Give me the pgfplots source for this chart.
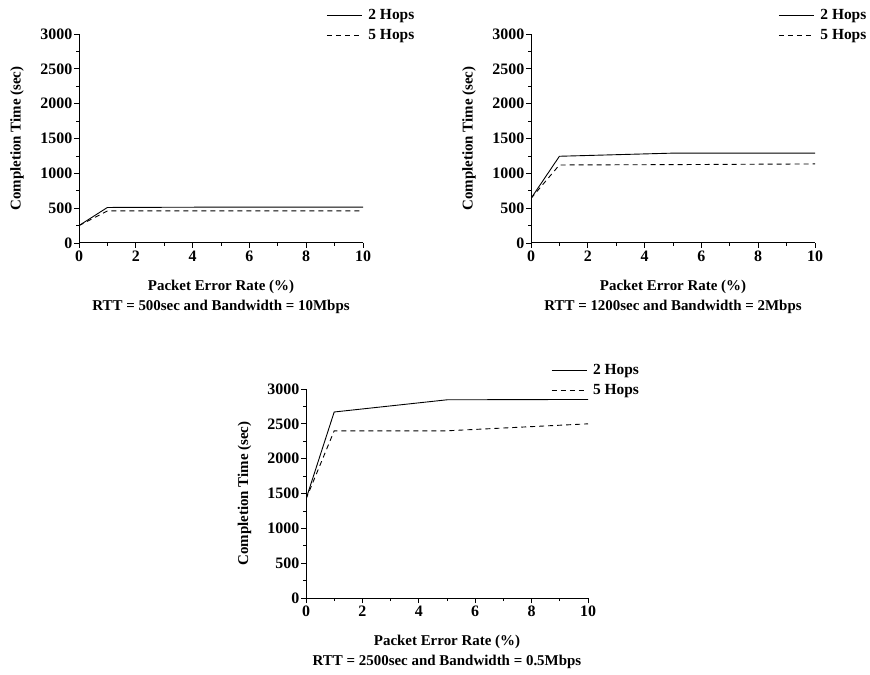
\documentclass[border=0pt]{standalone}
\usepackage{fontspec}
\setmainfont{Liberation Serif}
\usepackage{pgfplots}
\pgfplotsset{compat=1.18}

\pgfplotsset{
  hops/.style={
    scale only axis, width=284bp, height=209bp,
    axis lines=left, axis line style={-, line width=1bp},
    xmin=0, xmax=10, ymin=0, ymax=3000,
    xtick={0,2,...,10}, ytick={0,500,...,3000},
    minor x tick num=1, minor y tick num=1,
    tick align=outside, major tick length=5bp, minor tick length=3bp,
    every tick/.style={line width=0.8bp, black},
    /pgf/number format/assume math mode=true,
    /pgf/number format/1000 sep={},
    tick label style={font=\fontsize{16}{18}\selectfont\bfseries},
    yticklabel style={inner sep=1.5bp},
    xticklabel style={inner sep=2.5bp},
    label style={font=\fontsize{15}{20}\selectfont\bfseries},
    xlabel style={align=center, at={(axis description cs:0.5,-0.256)}, anchor=center},
    ylabel style={at={(axis description cs:-0.218,0.5)}, anchor=center},
    xlabel={Packet Error Rate (\%)\\#1},
    ylabel={Completion Time (sec)},
    legend style={draw=none, fill=none, inner sep=0pt,
      at={(axis description cs:1.185,1.13)}, anchor=north east,
      font=\fontsize{15.5}{18}\selectfont\bfseries,
      nodes={inner sep=1bp, text height=11bp, text depth=4bp},
      row sep=3bp,
      /tikz/every odd column/.append style={column sep=5bp}},
    legend cell align=left,
    legend image code/.code={\draw[##1] (0bp,0bp) -- (35bp,0bp);},
  },
  two/.style={black, line width=0.9bp},
  five/.style={black, line width=0.9bp, dash pattern=on 5bp off 4bp},
}

\begin{document}
\begin{tikzpicture}
\path[use as bounding box] (0,0) rectangle (870bp,675bp);

\begin{axis}[hops={RTT = 500sec and Bandwidth = 10Mbps},
  at={(79bp,432bp)}, anchor=south west]
  \addplot[two] coordinates {(0,250) (1,510) (5,515) (10,515)};
  \addplot[five] coordinates {(0,250) (1,460) (5,460) (10,460)};
  \legend{2 Hops, 5 Hops}
\end{axis}

\begin{axis}[hops={RTT = 1200sec and Bandwidth = 2Mbps},
  at={(531bp,432bp)}, anchor=south west]
  \addplot[two] coordinates {(0,640) (1,1245) (5,1290) (10,1290)};
  \addplot[five] coordinates {(0,640) (1,1120) (5,1125) (10,1135)};
  \legend{2 Hops, 5 Hops}
\end{axis}

\begin{axis}[hops={RTT = 2500sec and Bandwidth = 0.5Mbps},
  at={(306bp,77bp)}, anchor=south west, width=282bp]
  \addplot[two] coordinates {(0,1420) (1,2670) (5,2845) (10,2850)};
  \addplot[five] coordinates {(0,1420) (1,2400) (5,2400) (10,2500)};
  \legend{2 Hops, 5 Hops}
\end{axis}
\end{tikzpicture}
\end{document}
